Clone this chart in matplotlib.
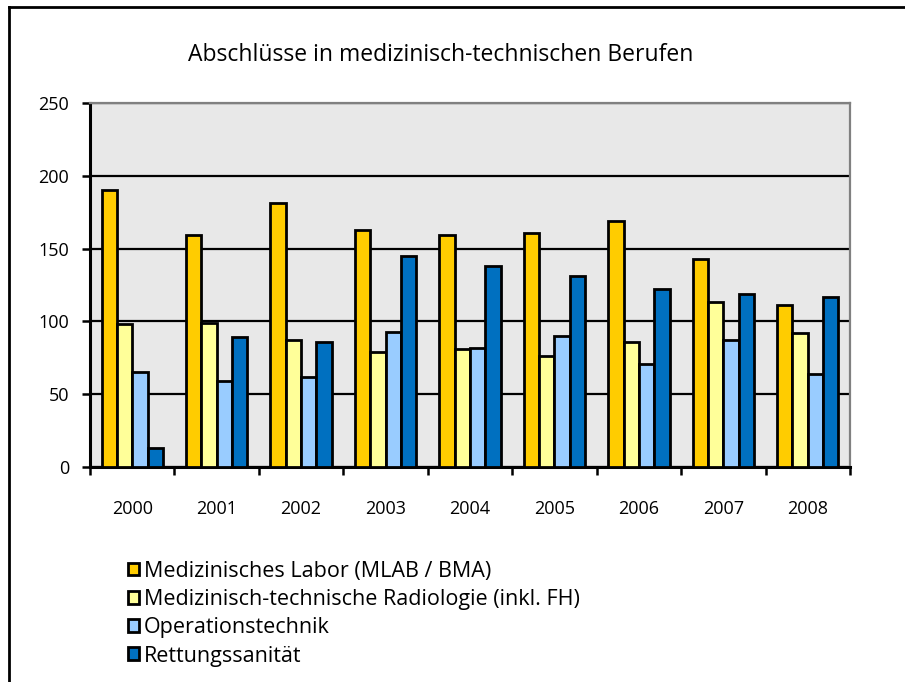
import matplotlib
matplotlib.use('Agg')
import matplotlib.pyplot as plt
from matplotlib.lines import Line2D
from matplotlib.patches import Patch
import numpy as np

plt.rcParams['font.family'] = ['Open Sans', 'DejaVu Sans']

# data
years = ['2000', '2001', '2002', '2003', '2004', '2005', '2006', '2007', '2008']
labor = [190, 159, 181, 163, 159, 161, 169, 143, 111]
radiologie = [98, 99, 87, 79, 81, 76, 86, 113, 92]
op_technik = [65, 59, 62, 93, 82, 90, 71, 87, 64]
rettung = [13, 89, 86, 145, 138, 131, 122, 119, 117]

series = [labor, radiologie, op_technik, rettung]
names = ['Medizinisches Labor (MLAB / BMA)',
         'Medizinisch-technische Radiologie (inkl. FH)',
         'Operationstechnik',
         'Rettungssanität']
colors = ['#FFCC00', '#FFFF99', '#99CCFF', '#0070C0']

W, H = 905, 682
fig = plt.figure(figsize=(W / 100, H / 100), dpi=100)
ax = fig.add_axes([90 / W, 1 - 467 / H, 760 / W, 364 / H])
ax.set_facecolor('#E8E8E8')

x = np.arange(len(years))
bw = 1 / 5.5
for i, (vals, col) in enumerate(zip(series, colors)):
    ax.bar(x + (i - 1.5) * bw, vals, width=bw, color=col,
           edgecolor='black', linewidth=2.0, zorder=3)

ax.set_xlim(-0.5, len(years) - 0.5)
ax.set_ylim(0, 250)
ax.set_yticks([0, 50, 100, 150, 200, 250])
ax.yaxis.grid(True, color='black', linewidth=1.6, zorder=1)
ax.set_axisbelow(True)

# x ticks between categories, labels centred
ax.set_xticks(np.arange(-0.5, len(years), 1.0))
ax.set_xticklabels([])
ax.set_xticks(x, minor=True)
ax.set_xticklabels(years, minor=True)
ax.tick_params(axis='x', which='minor', length=0, pad=24, labelsize=13)
ax.tick_params(axis='x', which='major', length=6, width=1.8, direction='out')
ax.tick_params(axis='y', length=6, width=1.8, direction='out', pad=9, labelsize=13)

for s in ['left', 'bottom']:
    ax.spines[s].set_linewidth(2.2)
    ax.spines[s].set_color('black')
for s in ['top', 'right']:
    ax.spines[s].set_linewidth(1.6)
    ax.spines[s].set_color('#808080')

fig.text(441 / W, 1 - 55 / H, 'Abschlüsse in medizinisch-technischen Berufen',
         ha='center', va='center', fontsize=16.5)

handles = [Patch(facecolor=c, edgecolor='black', linewidth=2.0) for c in colors]
fig.legend(handles, names, loc='upper left', bbox_to_anchor=(119 / W, 1 - 552 / H),
           frameon=False, fontsize=15.5, handlelength=0.55, handleheight=0.55,
           handletextpad=0.2, labelspacing=0.34, borderaxespad=0)

# outer frame (only top and left visible)
fig.add_artist(Line2D([9 / W, 9 / W], [0, 1 - 6.5 / H], color='black', linewidth=2,
                      transform=fig.transFigure))
fig.add_artist(Line2D([9 / W, 1], [1 - 6.5 / H, 1 - 6.5 / H], color='black', linewidth=2,
                      transform=fig.transFigure))

fig.savefig('out.png', dpi=100)
